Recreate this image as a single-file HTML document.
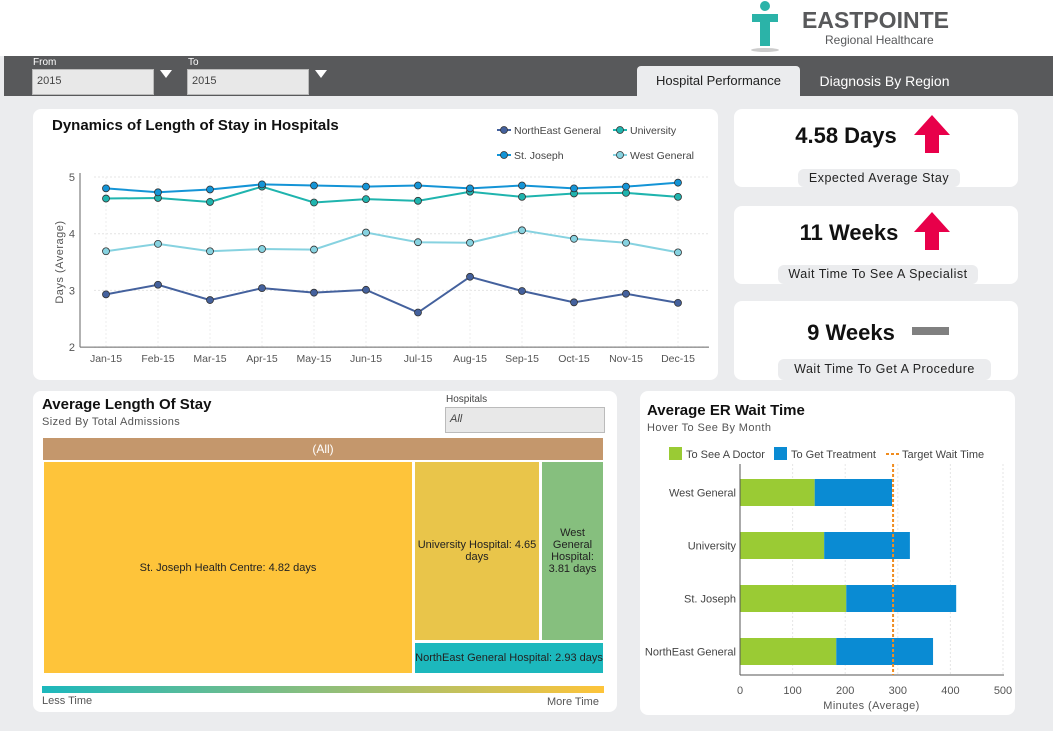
<!DOCTYPE html>
<html><head><meta charset="utf-8">
<style>
body{margin:0;width:1053px;height:731px;overflow:hidden;background:#ebecee;font-family:"Liberation Sans","DejaVu Sans",sans-serif;position:relative}
.abs{position:absolute}
.card{position:absolute;background:#fff;border-radius:8px}
.sel{position:absolute;background:#e8e8e8;border:1px solid #bbb;font-size:11px;color:#444;box-sizing:border-box;padding:5px 4px}
.kv{position:absolute;left:0;width:100%;text-align:center;font-weight:bold;font-size:22px;color:#111}
.kl{position:absolute;background:#ebecee;border-radius:6px;font-size:12.5px;color:#222;text-align:center;letter-spacing:.5px}
.tm{position:absolute;display:flex;align-items:center;justify-content:center;text-align:center;font-size:11px;color:#222}
</style></head><body>
<div class="abs" style="left:0;top:0;width:1053px;height:56px;background:#fff"></div>
<svg class="abs" style="left:740px;top:0" width="230" height="56">
<circle cx="25" cy="6" r="5" fill="#2bb3a8"/>
<path d="M12 14 H38 V22 H30 V46 H20 V22 H12Z" fill="#2bb3a8"/>
<ellipse cx="25" cy="50" rx="14" ry="2" fill="#999" opacity=".5"/>
<text x="62" y="28" font-size="23" font-weight="bold" fill="#58595b" font-family="Liberation Sans">EASTPOINTE</text>
<text x="85" y="44" font-size="12" fill="#58595b" font-family="Liberation Sans">Regional Healthcare</text>
</svg>
<div class="abs" style="left:4px;top:56px;width:1049px;height:40px;background:#58595b"></div>
<div class="abs" style="left:33px;top:57px;font-size:10px;color:#fff">From</div>
<div class="sel" style="left:32px;top:69px;width:122px;height:26px">2015</div>
<div class="abs" style="left:160px;top:70px;width:0;height:0;border-left:6px solid transparent;border-right:6px solid transparent;border-top:8px solid #fff"></div>
<div class="abs" style="left:188px;top:57px;font-size:10px;color:#fff">To</div>
<div class="sel" style="left:187px;top:69px;width:122px;height:26px">2015</div>
<div class="abs" style="left:315px;top:70px;width:0;height:0;border-left:6px solid transparent;border-right:6px solid transparent;border-top:8px solid #fff"></div>
<div class="abs" style="left:637px;top:66px;width:163px;height:30px;background:#ebecee;border-radius:4px 4px 0 0;font-size:13px;color:#222;text-align:center;line-height:30px">Hospital Performance</div>
<div class="abs" style="left:803px;top:66px;width:163px;height:30px;font-size:14px;color:#fff;text-align:center;line-height:30px">Diagnosis By Region</div>

<div class="card" style="left:33px;top:109px;width:685px;height:271px"></div>
<svg id="line" class="abs" style="left:33px;top:109px" width="685" height="271"></svg>

<div class="card" style="left:734px;top:109px;width:284px;height:78px">
<div class="kv" style="top:14px;left:-30px">4.58 Days</div>
<svg class="abs" style="left:178px;top:4px" width="40" height="42"><path d="M20 2 L38 22 H27 V40 H13 V22 H2Z" fill="#e8004a"/></svg>
<div class="kl" style="left:64px;top:60px;width:162px;height:18px;line-height:18px">Expected Average Stay</div></div>
<div class="card" style="left:734px;top:206px;width:284px;height:78px">
<div class="kv" style="top:14px;left:-27px">11 Weeks</div>
<svg class="abs" style="left:178px;top:4px" width="40" height="42"><path d="M20 2 L38 22 H27 V40 H13 V22 H2Z" fill="#e8004a"/></svg>
<div class="kl" style="left:44px;top:59px;width:200px;height:19px;line-height:19px">Wait Time To See A Specialist</div></div>
<div class="card" style="left:734px;top:301px;width:284px;height:79px">
<div class="kv" style="top:19px;left:-25px">9 Weeks</div>
<div class="abs" style="left:178px;top:26px;width:37px;height:8px;background:#808080"></div>
<div class="kl" style="left:44px;top:58px;width:213px;height:21px;line-height:21px">Wait Time To Get A Procedure</div></div>

<div class="card" style="left:33px;top:391px;width:584px;height:321px">
<div class="abs" style="left:9px;top:5px;font-size:15px;font-weight:bold;color:#111">Average Length Of Stay</div>
<div class="abs" style="left:9px;top:25px;font-size:11px;color:#555;letter-spacing:.4px">Sized By Total Admissions</div>
<div class="abs" style="left:413px;top:3px;font-size:10px;color:#444">Hospitals</div>
<div class="sel" style="left:412px;top:16px;width:160px;height:26px;font-style:italic">All</div>
</div>
<div class="tm" style="left:43px;top:438px;width:560px;height:22px;background:#c4976c;color:#fff;font-size:12px">(All)</div>
<div class="tm" style="left:44px;top:462px;width:368px;height:211px;background:#fec43a">St. Joseph Health Centre: 4.82 days</div>
<div class="tm" style="left:415px;top:462px;width:124px;height:178px;background:#e9c54a">University Hospital: 4.65 days</div>
<div class="tm" style="left:542px;top:462px;width:61px;height:178px;background:#86bf7e">West General Hospital: 3.81 days</div>
<div class="tm" style="left:415px;top:643px;width:188px;height:30px;background:#1cb8bd;white-space:nowrap">NorthEast General Hospital: 2.93 days</div>
<div class="abs" style="left:42px;top:686px;width:562px;height:7px;background:linear-gradient(90deg,#1cb8bd,#fec43a)"></div>
<div class="abs" style="left:42px;top:695px;font-size:11px;color:#555">Less Time</div>
<div class="abs" style="left:547px;top:696px;font-size:11px;color:#555">More Time</div>

<div class="card" style="left:640px;top:391px;width:375px;height:324px"></div>
<svg id="er" class="abs" style="left:640px;top:391px" width="375" height="324"></svg>

<script>
const months=["Jan-15","Feb-15","Mar-15","Apr-15","May-15","Jun-15","Jul-15","Aug-15","Sep-15","Oct-15","Nov-15","Dec-15"];
const yTicks=[2,3,4,5];
const stJoseph=[4.80,4.73,4.78,4.87,4.85,4.83,4.85,4.80,4.85,4.80,4.83,4.90];
const university=[4.62,4.63,4.56,4.83,4.55,4.61,4.58,4.74,4.65,4.71,4.72,4.65];
const westGeneral=[3.69,3.82,3.69,3.73,3.72,4.02,3.85,3.84,4.06,3.91,3.84,3.67];
const northEast=[2.93,3.10,2.83,3.04,2.96,3.01,2.61,3.24,2.99,2.79,2.94,2.78];

const erHospitals=["West General","University","St. Joseph","NorthEast General"];
const toDoctor=[142,160,202,183];
const toTreatment=[147,163,209,184];
const targetWait=291;
const xTicks=[0,100,200,300,400,500];

const NS="http://www.w3.org/2000/svg";
function mk(p,t,a,txt){const e=document.createElementNS(NS,t);for(const k in a)e.setAttribute(k,a[k]);if(txt!==undefined)e.textContent=txt;p.appendChild(e);return e;}

(function(){
const s=document.getElementById('line');
const X=i=>73+i*52, Y=v=>68+(5-v)*56.7;
let t=mk(s,'text',{x:19,y:21,'font-size':15,'font-weight':'bold',fill:'#111'},'Dynamics of Length of Stay in Hospitals');

yTicks.forEach(v=>{
 let g=mk(s,'line',{x1:61,x2:675,y1:Y(v),y2:Y(v),stroke:'#e4e4e4','stroke-dasharray':'2,2'});
 
 let l=mk(s,'text',{x:42,y:Y(v)+4,'font-size':11,fill:'#555','text-anchor':'end'},v);
 
});
months.forEach((m,i)=>{
 mk(s,'line',{x1:X(i),x2:X(i),y1:Y(5),y2:Y(2),stroke:'#eee','stroke-dasharray':'2,2'});
 let l=mk(s,'text',{x:X(i),y:Y(2)+15,'font-size':10.5,fill:'#555','text-anchor':'middle'},m);
 
});
mk(s,'line',{x1:47,x2:47,y1:Y(5)-4,y2:Y(2),stroke:'#666'});
mk(s,'line',{x1:47,x2:676,y1:Y(2),y2:Y(2),stroke:'#666'});
let yt=mk(s,'text',{x:0,y:0,'font-size':11,fill:'#555','text-anchor':'middle',transform:'translate(30,'+Y(3.5)+') rotate(-90)','letter-spacing':'0.5'},'Days (Average)');

const series=[[northEast,'#44619d','#3f5a90','northeast-general'],[westGeneral,'#86d2e0','#7cc8d6','west-general'],[university,'#1fb4ae','#17a29c','university'],[stJoseph,'#1494d6','#0f7fbf','st-joseph']];
series.forEach(([d,c,fc,n])=>{
 let p=mk(s,'polyline',{points:d.map((v,i)=>X(i)+','+Y(v)).join(' '),fill:'none',stroke:c,'stroke-width':2});
 
 d.forEach((v,i)=>{let c2=mk(s,'circle',{cx:X(i),cy:Y(v),r:3.5,fill:c,stroke:'#333','stroke-width':0.8});
 });
});
const leg=[['NorthEast General','#44619d',472,21],['University','#1fb4ae',588,21],['St. Joseph','#1494d6',472,46],['West General','#86d2e0',588,46]];
leg.forEach(([n,c,x,y])=>{
 let g=mk(s,'g',{});
 mk(g,'line',{x1:x-8,x2:x+6,y1:y,y2:y,stroke:c,'stroke-width':2});
 mk(g,'circle',{cx:x-1,cy:y,r:3.5,fill:c,stroke:'#333','stroke-width':0.8});
 mk(g,'text',{x:x+9,y:y+4,'font-size':10.5,fill:'#444'},n);
});
})();

(function(){
const s=document.getElementById('er');
const X=v=>100+v*0.526, rowY=i=>88+i*53, bh=27;
let t=mk(s,'text',{x:7,y:24,'font-size':15,'font-weight':'bold',fill:'#111'},'Average ER Wait Time');

mk(s,'text',{x:7,y:40,'font-size':11,fill:'#555','letter-spacing':'0.4'},'Hover To See By Month');
let g=mk(s,'g',{});
mk(g,'rect',{x:29,y:56,width:13,height:13,fill:'#9acb34'});mk(g,'text',{x:46,y:67,'font-size':11,fill:'#444'},'To See A Doctor');
g=mk(s,'g',{});
mk(g,'rect',{x:134,y:56,width:13,height:13,fill:'#0a8bd3'});mk(g,'text',{x:151,y:67,'font-size':11,fill:'#444'},'To Get Treatment');
g=mk(s,'g',{});
mk(g,'line',{x1:246,x2:259,y1:63,y2:63,stroke:'#f08c1e','stroke-width':2,'stroke-dasharray':'3,2'});mk(g,'text',{x:262,y:67,'font-size':11,fill:'#444'},'Target Wait Time');
xTicks.forEach(v=>{
 mk(s,'line',{x1:X(v),x2:X(v),y1:73,y2:284,stroke:'#e6e6e6','stroke-dasharray':'2,2'});
 let l=mk(s,'text',{x:X(v),y:303,'font-size':11,fill:'#555','text-anchor':'middle'},v);
 
});
erHospitals.forEach((h,i)=>{
 let y=rowY(i);
 let a=mk(s,'rect',{x:X(0),y:y,width:X(toDoctor[i])-X(0),height:bh,fill:'#9acb34'});
 
 let b=mk(s,'rect',{x:X(toDoctor[i]),y:y,width:X(toDoctor[i]+toTreatment[i])-X(toDoctor[i]),height:bh,fill:'#0a8bd3'});
 
 let l=mk(s,'text',{x:96,y:y+bh/2+4,'font-size':11,fill:'#444','text-anchor':'end'},h);
 
});
mk(s,'line',{x1:X(0),x2:X(0),y1:73,y2:284,stroke:'#555'});
mk(s,'line',{x1:X(0),x2:X(500)+1,y1:284,y2:284,stroke:'#555'});
let tl=mk(s,'line',{x1:X(targetWait),x2:X(targetWait),y1:73,y2:284,stroke:'#f08c1e','stroke-width':2,'stroke-dasharray':'3,2'});

let xt=mk(s,'text',{x:X(250),y:318,'font-size':11,fill:'#555','text-anchor':'middle','letter-spacing':'0.4'},'Minutes (Average)');

})();
</script>
</body></html>
